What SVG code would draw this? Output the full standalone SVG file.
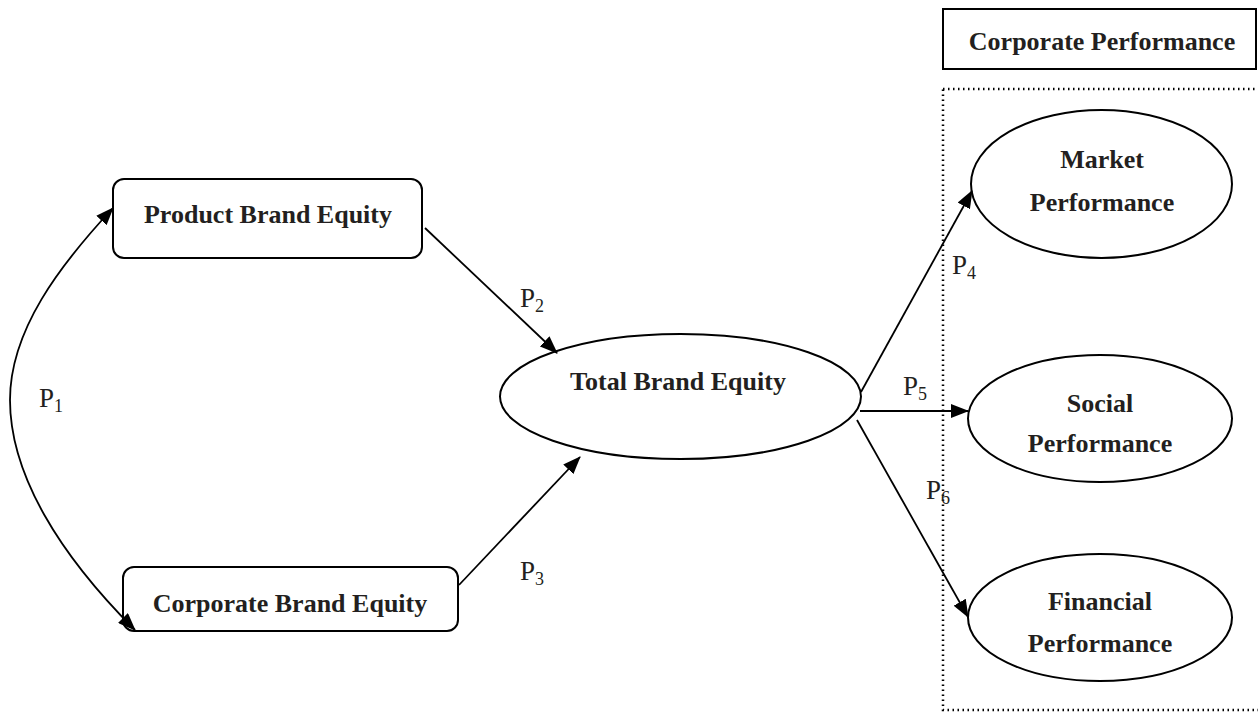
<svg xmlns="http://www.w3.org/2000/svg" width="1258" height="717" viewBox="0 0 1258 717">
<style>
.node { fill: #ffffff; stroke: #000000; stroke-width: 2; }
.lbl { font-family: "Liberation Serif", "Times New Roman", serif; font-weight: bold; font-size: 26px; fill: #231f20; text-anchor: middle; }
.p { font-family: "Liberation Serif", "Times New Roman", serif; font-size: 27px; fill: #231f20; }
.sub { font-size: 18px; }
.edge { fill: none; stroke: #000000; stroke-width: 1.8; }
</style>
<defs>
<marker id="arr" viewBox="0 0 18 14" refX="17" refY="7" markerWidth="18" markerHeight="14" markerUnits="userSpaceOnUse" orient="auto-start-reverse">
<path d="M0,0 L18,7 L0,14 z" fill="#000000"/>
</marker>
</defs>
<rect x="0" y="0" width="1258" height="717" fill="#ffffff"/>

<g id="group-corporate-performance">
<rect x="943" y="9" width="313" height="60" fill="#ffffff" stroke="#000000" stroke-width="2"/>
<text class="lbl" x="1102" y="50">Corporate Performance</text>
<rect x="943" y="89" width="330" height="621" fill="none" stroke="#000000" stroke-width="2.5" stroke-dasharray="1.5 3.5"/>
</g>

<g id="node-product-brand-equity">
<rect class="node" x="113" y="179" width="309" height="79" rx="11"/>
<text class="lbl" x="268" y="223">Product Brand Equity</text>
</g>

<g id="node-corporate-brand-equity">
<rect class="node" x="123" y="567" width="335" height="64" rx="11"/>
<text class="lbl" x="290" y="612">Corporate Brand Equity</text>
</g>

<g id="node-total-brand-equity">
<ellipse class="node" cx="680.5" cy="396.5" rx="180.5" ry="62.5"/>
<text class="lbl" x="678" y="390">Total Brand Equity</text>
</g>

<g id="node-market-performance">
<ellipse class="node" cx="1101.5" cy="184" rx="130.5" ry="74"/>
<text class="lbl" x="1102" y="168">Market</text>
<text class="lbl" x="1102" y="211">Performance</text>
</g>

<g id="node-social-performance">
<ellipse class="node" cx="1100" cy="418.5" rx="132" ry="63.5"/>
<text class="lbl" x="1100" y="412">Social</text>
<text class="lbl" x="1100" y="452">Performance</text>
</g>

<g id="node-financial-performance">
<ellipse class="node" cx="1100" cy="617.5" rx="132" ry="63.5"/>
<text class="lbl" x="1100" y="610">Financial</text>
<text class="lbl" x="1100" y="652">Performance</text>
</g>

<g id="connectors">
<path class="edge" d="M113,208 C60,265 10,330 10,400 C10,475 60,555 135,630" marker-start="url(#arr)" marker-end="url(#arr)"/>
<line class="edge" x1="425" y1="228" x2="557" y2="353" marker-end="url(#arr)"/>
<line class="edge" x1="459" y1="585" x2="580" y2="457" marker-end="url(#arr)"/>
<line class="edge" x1="861" y1="392" x2="972" y2="191" marker-end="url(#arr)"/>
<line class="edge" x1="860" y1="411" x2="968" y2="411" marker-end="url(#arr)"/>
<line class="edge" x1="857" y1="420" x2="968" y2="617" marker-end="url(#arr)"/>
<text class="p" x="39" y="407">P<tspan class="sub" dy="5">1</tspan></text>
<text class="p" x="520" y="307">P<tspan class="sub" dy="5">2</tspan></text>
<text class="p" x="520" y="580">P<tspan class="sub" dy="5">3</tspan></text>
<text class="p" x="952" y="274">P<tspan class="sub" dy="5">4</tspan></text>
<text class="p" x="903" y="395">P<tspan class="sub" dy="5">5</tspan></text>
<text class="p" x="926" y="499">P<tspan class="sub" dy="5">6</tspan></text>
</g>
</svg>
